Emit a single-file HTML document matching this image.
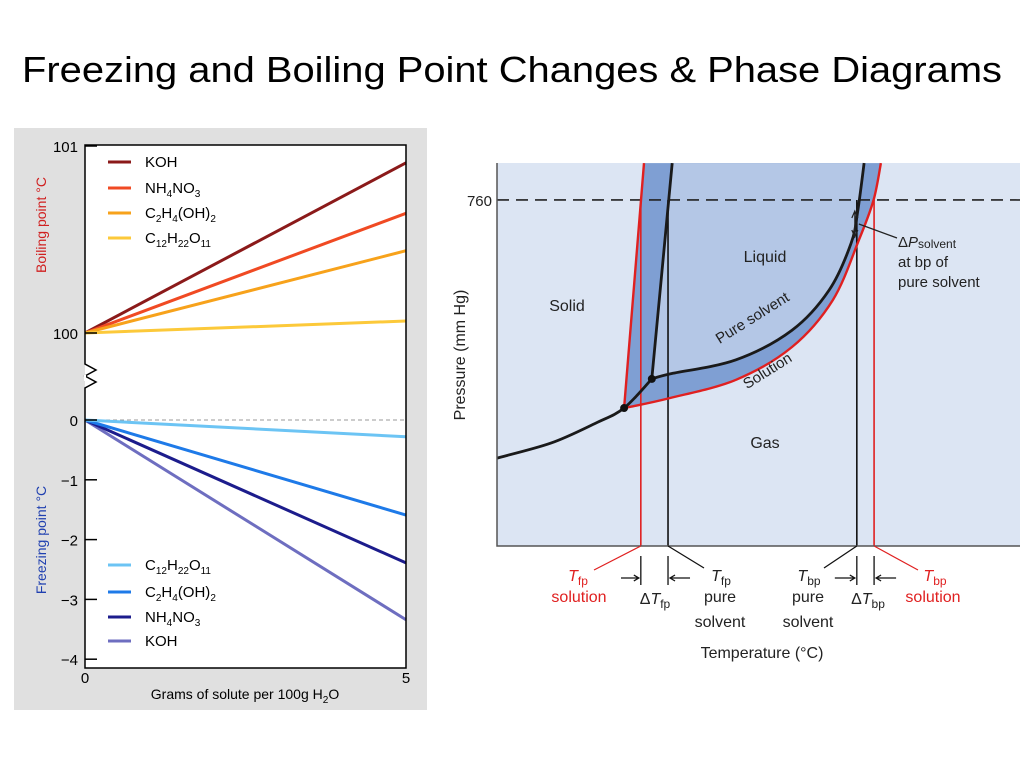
<!DOCTYPE html>
<html><head><meta charset="utf-8"><style>
html,body{margin:0;padding:0;background:#fff;}
svg{display:block;font-family:"Liberation Sans",sans-serif;}
</style></head><body>
<svg id="s" width="1024" height="768" viewBox="0 0 1024 768">
<text x="512" y="82" font-size="36" text-anchor="middle" textLength="980" lengthAdjust="spacingAndGlyphs" fill="#000">Freezing and Boiling Point Changes &amp; Phase Diagrams</text>

<g id="left">
<rect x="14" y="128" width="413" height="582" fill="#e0e0e0"/>
<rect x="85" y="145" width="321" height="523" fill="#fff"/>
</g>

<g id="right"></g>
</svg>
<script>
// ---- Left chart data ----
const solutes = ["KOH","NH4NO3","C2H4(OH)2","C12H22O11"];
const grams = [0,5];
const bpAt5 = [100.91,100.64,100.44,100.064];
const fpAt5 = [-3.34,-2.39,-1.59,-0.28];
const bpTicks = [100,101];
const fpTicks = [0,-1,-2,-3,-4];
const xTicks = [0,5];
const bpColors = ["#8b1a1a","#f04a23","#f7a21b","#fcc93a"];
const fpColors = ["#6e6ec0","#1c1c8c","#1e7ae8","#6cc4f4"];

// ---- Phase diagram data (T arbitrary units, P mmHg) ----
const sublimation = [[0,193],[10.3,226],[18.9,270],[24.3,303],[29.6,367]];
const pureVapor = [[29.6,367],[33.1,378],[45.7,409],[56.4,474],[63.5,562],[67.7,665],[69.0,738],[70.2,841]];
const pureFusion = [[29.6,367],[33.5,841]];
const solFusion = [[24.3,303],[28.1,841]];
const solVapor = [[24.3,303],[25.2,305],[33.1,325],[45.7,365],[56.4,437],[64.2,540],[69.2,672],[72.0,760],[73.4,841]];
const keyTemps = [27.5,32.7,68.8,72.1];
const stdPressure = 760;
const pTop = 841;

const NS="http://www.w3.org/2000/svg";
function mk(parent,tag,attrs,text){const e=document.createElementNS(NS,tag);for(const k in attrs)e.setAttribute(k,attrs[k]);if(text!==undefined)e.textContent=text;parent.appendChild(e);return e;}

// ---- Left chart ----
const L=document.getElementById('left');
const gx=g=>85+g*64.2;
const yb=v=>333-(v-100)*187;
const yf=v=>420-v*59.8;

let e;
e=mk(L,'line',{x1:85,y1:420,x2:406,y2:420,stroke:'#999','stroke-dasharray':'4,3','stroke-width':1});



for(let i=0;i<solutes.length;i++){
  e=mk(L,'line',{x1:gx(grams[0]),y1:yb(100),x2:gx(grams[1]),y2:yb(bpAt5[i]),stroke:bpColors[i],'stroke-width':3});
  
  
  e=mk(L,'line',{x1:gx(grams[0]),y1:yf(0),x2:gx(grams[1]),y2:yf(fpAt5[i]),stroke:fpColors[i],'stroke-width':3});
  
  
}
e=mk(L,'path',{d:'M85,145 H406 V668 H85 V388 L96,382 L85,376 L96,370 L85,364 Z',fill:'none',stroke:'#000','stroke-width':1.5});


e=mk(L,'rect',{x:84,y:375,width:2,height:6,fill:'#fff'});



bpTicks.forEach(v=>{
  e=mk(L,'text',{x:78,y:yb(v)+6,'font-size':15,'text-anchor':'end'},String(v));
  
  
  e=mk(L,'line',{x1:85,y1:yb(v),x2:97,y2:yb(v),stroke:'#000','stroke-width':1.5});
  
  
});
fpTicks.forEach(v=>{
  e=mk(L,'text',{x:78,y:yf(v)+6,'font-size':15,'text-anchor':'end'},v<0?'\u2212'+(-v):String(v));
  
  
  e=mk(L,'line',{x1:85,y1:yf(v),x2:97,y2:yf(v),stroke:'#000','stroke-width':1.5});
  
  
});
xTicks.forEach(v=>{
  e=mk(L,'text',{x:gx(v),y:683,'font-size':15,'text-anchor':'middle'},String(v));
  
  
});
e=mk(L,'text',{x:0,y:0,'font-size':14,fill:'#d02020','text-anchor':'middle',transform:'translate(46,225) rotate(-90)'},'Boiling point °C');


e=mk(L,'text',{x:0,y:0,'font-size':14,fill:'#2040b0','text-anchor':'middle',transform:'translate(46,540) rotate(-90)'},'Freezing point °C');


e=mk(L,'text',{x:245,y:699,'font-size':14,'text-anchor':'middle'},'');
e.innerHTML='Grams of solute per 100g H<tspan font-size="10" dy="4">2</tspan><tspan dy="-4">O</tspan>';



const legHTML=['KOH','NH<tspan font-size="10" dy="4">4</tspan><tspan dy="-4">NO</tspan><tspan font-size="10" dy="4">3</tspan>','C<tspan font-size="10" dy="4">2</tspan><tspan dy="-4">H</tspan><tspan font-size="10" dy="4">4</tspan><tspan dy="-4">(OH)</tspan><tspan font-size="10" dy="4">2</tspan>','C<tspan font-size="10" dy="4">12</tspan><tspan dy="-4">H</tspan><tspan font-size="10" dy="4">22</tspan><tspan dy="-4">O</tspan><tspan font-size="10" dy="4">11</tspan>'];
const topY=[162,188,213,238], botY=[641,617,592,565];
for(let i=0;i<4;i++){
  e=mk(L,'line',{x1:108,y1:topY[i],x2:131,y2:topY[i],stroke:bpColors[i],'stroke-width':3});
  
  
  e=mk(L,'text',{x:145,y:topY[i]+5,'font-size':15});e.innerHTML=legHTML[i];
  
  
  e=mk(L,'line',{x1:108,y1:botY[i],x2:131,y2:botY[i],stroke:fpColors[i],'stroke-width':3});
  
  
  e=mk(L,'text',{x:145,y:botY[i]+5,'font-size':15});e.innerHTML=legHTML[i];
  
  
}

// ---- Phase diagram ----
const R=document.getElementById('right');
const tx=t=>497+t*5.23;
const py=p=>546-p*0.4553;
function smooth(a,cont){
  const p=a.map(q=>[tx(q[0]),py(q[1])]);
  let d=(cont?'L':'M')+p[0][0].toFixed(1)+','+p[0][1].toFixed(1);
  for(let i=0;i<p.length-1;i++){
    const p0=p[Math.max(0,i-1)],p1=p[i],p2=p[i+1],p3=p[Math.min(p.length-1,i+2)];
    const c1=[p1[0]+(p2[0]-p0[0])/6,p1[1]+(p2[1]-p0[1])/6];
    const c2=[p2[0]-(p3[0]-p1[0])/6,p2[1]-(p3[1]-p1[1])/6];
    d+=` C${c1[0].toFixed(1)},${c1[1].toFixed(1)} ${c2[0].toFixed(1)},${c2[1].toFixed(1)} ${p2[0].toFixed(1)},${p2[1].toFixed(1)}`;
  }
  return d;
}
const rev=a=>a.slice().reverse();
e=mk(R,'rect',{x:497,y:163,width:523,height:383,fill:'#dce5f3'});


e=mk(R,'path',{d:smooth(solFusion)+' '+smooth(rev(solVapor),true)+'Z',fill:'#7f9fd3'});


e=mk(R,'path',{d:smooth(pureFusion)+' '+smooth(rev(pureVapor),true)+'Z',fill:'#b4c7e6'});


const vcol=['#e02020','#111','#111','#e02020'];
keyTemps.forEach((t,i)=>{
  e=mk(R,'line',{x1:tx(t),y1:546,x2:tx(t),y2:py(stdPressure),stroke:vcol[i],'stroke-width':1.6});
  
  
});
e=mk(R,'line',{x1:497,y1:py(stdPressure),x2:1020,y2:py(stdPressure),stroke:'#222','stroke-width':1.6,'stroke-dasharray':'12,7'});


[[solFusion,'#e02020','solution-fusion-curve'],[solVapor,'#e02020','solution-vapor-curve'],[sublimation,'#1a1a1a','sublimation-curve'],[pureFusion,'#1a1a1a','pure-fusion-curve'],[pureVapor,'#1a1a1a','pure-vapor-curve']].forEach(c=>{
  e=mk(R,'path',{d:smooth(c[0]),fill:'none',stroke:c[1],'stroke-width':c[1]=='#e02020'?2.4:2.8,'stroke-linejoin':'round'});
  
  
});
[solFusion[0],pureFusion[0]].forEach(q=>{
  e=mk(R,'circle',{cx:tx(q[0]),cy:py(q[1]),r:4,fill:'#111'});
  
  
});
e=mk(R,'path',{d:'M497,163 V546 H1020',fill:'none',stroke:'#555','stroke-width':1.5});


e=mk(R,'text',{x:492,y:206,'font-size':15,'text-anchor':'end',fill:'#222'},'760');


e=mk(R,'text',{x:0,y:0,'font-size':16,'text-anchor':'middle',fill:'#222',transform:'translate(465,355) rotate(-90)'},'Pressure (mm Hg)');


e=mk(R,'text',{x:762,y:658,'font-size':16,'text-anchor':'middle',fill:'#222'},'Temperature (°C)');


const labs=[['Liquid',765,262],['Solid',567,311],['Gas',765,448]];
labs.forEach(l=>{e=mk(R,'text',{x:l[1],y:l[2],'font-size':16,'text-anchor':'middle',fill:'#222'},l[0]);

});
e=mk(R,'text',{x:0,y:0,'font-size':15,'text-anchor':'middle',fill:'#222',transform:'translate(755,322) rotate(-32)'},'Pure solvent');


e=mk(R,'text',{x:0,y:0,'font-size':15,'text-anchor':'middle',fill:'#222',transform:'translate(770,375) rotate(-32)'},'Solution');


const xa=tx(keyTemps[2])-2;
e=mk(R,'path',{d:`M${xa},236 V212 M${xa-3},218 L${xa},211 L${xa+3},218 M${xa-3},230 L${xa},237 L${xa+3},230 M${xa+4},224 L897,238`,fill:'none',stroke:'#222','stroke-width':1.2});


e=mk(R,'text',{x:898,y:247,'font-size':15,fill:'#222'});e.innerHTML='Δ<tspan font-style="italic">P</tspan><tspan font-size="12" dy="1">solvent</tspan>';


[['at bp of',267],['pure solvent',287]].forEach(l=>{e=mk(R,'text',{x:898,y:l[1],'font-size':15,fill:'#222'},l[0]);

});
const x0=tx(keyTemps[0]),x1=tx(keyTemps[1]),x2=tx(keyTemps[2]),x3=tx(keyTemps[3]);
e=mk(R,'path',{d:`M${x0},546 L594,570 M${x3},546 L918,570`,stroke:'#e02020','stroke-width':1.2,fill:'none'});


e=mk(R,'path',{d:`M${x1},546 L704,568 M${x2},546 L824,568 M${x0},556 V585 M${x1},556 V585 M${x2},556 V585 M${x3},556 V585 M621,578 H${x0-2} M${x0-7},575 L${x0-2},578 L${x0-7},581 M${x1+22},578 H${x1+2} M${x1+7},575 L${x1+2},578 L${x1+7},581 M${x2-22},578 H${x2-2} M${x2-7},575 L${x2-2},578 L${x2-7},581 M${x3+22},578 H${x3+2} M${x3+7},575 L${x3+2},578 L${x3+7},581`,stroke:'#111','stroke-width':1.3,fill:'none'});


const T=(x,y,html,col,anchor,name)=>{e=mk(R,'text',{x:x,y:y,'font-size':16,fill:col,'text-anchor':anchor||'middle'});e.innerHTML=html;

};
const tfp='<tspan font-style="italic">T</tspan><tspan font-size="12" dy="4">fp</tspan>';
const tbp='<tspan font-style="italic">T</tspan><tspan font-size="12" dy="4">bp</tspan>';
T(578,581,tfp,'#e02020','middle','tfp-solution-symbol');
T(579,602,'solution','#e02020','middle','tfp-solution-label');
T(655,604,'Δ'+tfp,'#222','middle','delta-tfp-label');
T(721,581,tfp,'#222','middle','tfp-pure-symbol');
T(720,602,'pure','#222','middle','tfp-pure-label');
T(720,627,'solvent','#222','middle','tfp-solvent-label');
T(809,581,tbp,'#222','middle','tbp-pure-symbol');
T(808,602,'pure','#222','middle','tbp-pure-label');
T(808,627,'solvent','#222','middle','tbp-solvent-label');
T(868,604,'Δ'+tbp,'#222','middle','delta-tbp-label');
T(935,581,tbp,'#e02020','middle','tbp-solution-symbol');
T(933,602,'solution','#e02020','middle','tbp-solution-label');
</script>
</body></html>
